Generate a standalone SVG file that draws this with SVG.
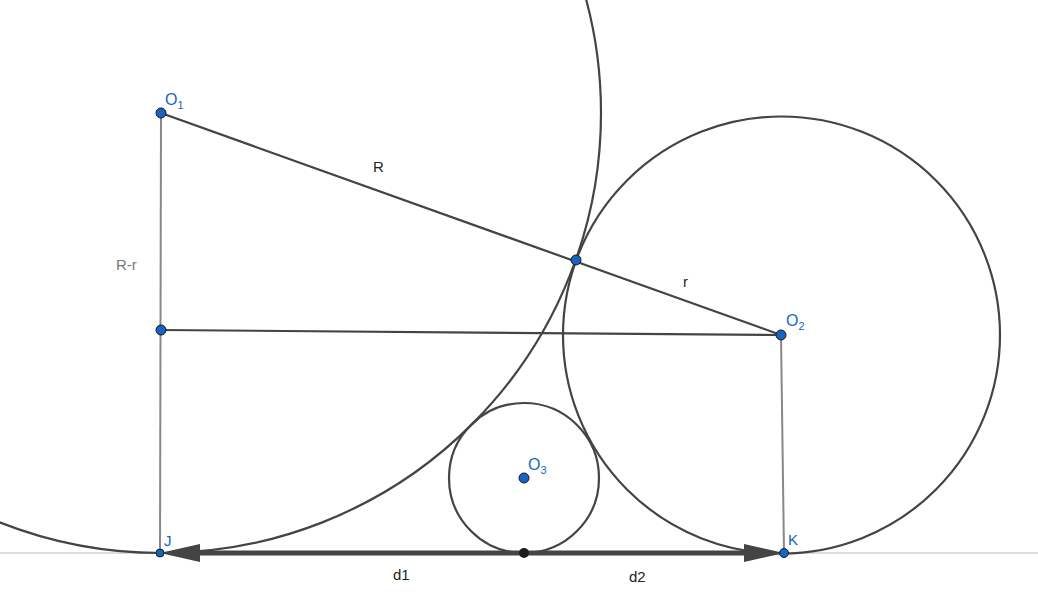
<svg xmlns="http://www.w3.org/2000/svg" width="1038" height="616" viewBox="0 0 1038 616">
<style>
.c{fill:none;stroke:#444;stroke-width:2.2}
.s{stroke:#444;stroke-width:2.2}
.g{stroke:#888;stroke-width:2}
.ax{stroke:#bbb;stroke-width:1}
.ar{stroke:#444;stroke-width:5}
.ah{fill:#444}
.p{fill:#1565c0;stroke:#1a1a1a;stroke-width:1}
.lb{font-family:"Liberation Sans",Arial,sans-serif;font-size:16px;fill:#1565c0}
.sb{font-size:11px}
.t{font-family:"Liberation Sans",Arial,sans-serif;font-size:15px;fill:#222}
</style>
<rect width="1038" height="616" fill="#fff"/>
<g id="connectors">
<line class="ax" x1="0" y1="553" x2="1038" y2="553"/>
<circle class="c" cx="161" cy="113" r="440"/>
<circle class="c" cx="781.5" cy="335" r="218.5"/>
<circle class="c" cx="524" cy="478" r="75"/>
<line class="g" x1="161" y1="113" x2="160" y2="553"/>
<line class="g" x1="781" y1="335" x2="784" y2="553"/>
<line class="s" x1="161" y1="113" x2="781" y2="335"/>
<line class="s" x1="161" y1="330" x2="781" y2="335"/>
<line class="ar" x1="524" y1="553" x2="195" y2="553"/>
<line class="ar" x1="524" y1="553" x2="750" y2="553"/>
<polygon class="ah" points="160,553 200,544 200,562"/>
<polygon class="ah" points="784,553 744,544 744,562"/>
</g>
<g id="labels">
<text class="t" x="373" y="172">R</text>
<text class="t" x="683" y="287">r</text>
<text class="t" x="116" y="270" style="fill:#777">R-r</text>
<text class="t" x="393" y="580">d1</text>
<text class="t" x="629" y="582">d2</text>
</g>
<g id="O1"><circle class="p" cx="161" cy="113" r="5"/><text class="lb" x="165" y="105">O<tspan class="sb" dy="4">1</tspan></text></g>
<g id="O2"><circle class="p" cx="781" cy="335" r="5"/><text class="lb" x="786" y="326">O<tspan class="sb" dy="4">2</tspan></text></g>
<g id="O3"><circle class="p" cx="524" cy="478" r="5"/><text class="lb" x="528" y="470">O<tspan class="sb" dy="4">3</tspan></text></g>
<g id="T"><circle class="p" cx="576" cy="260" r="5"/></g>
<g id="M"><circle class="p" cx="161" cy="330" r="5"/></g>
<g id="J"><circle class="p" cx="160" cy="553" r="4"/><text class="lb" x="164" y="546" style="font-size:15px">J</text></g>
<g id="K"><circle class="p" cx="784" cy="553" r="4.5"/><text class="lb" x="788" y="545" style="font-size:15px">K</text></g>
<g id="N"><circle cx="524" cy="553" r="5" fill="#1a1a1a"/></g>
</svg>
